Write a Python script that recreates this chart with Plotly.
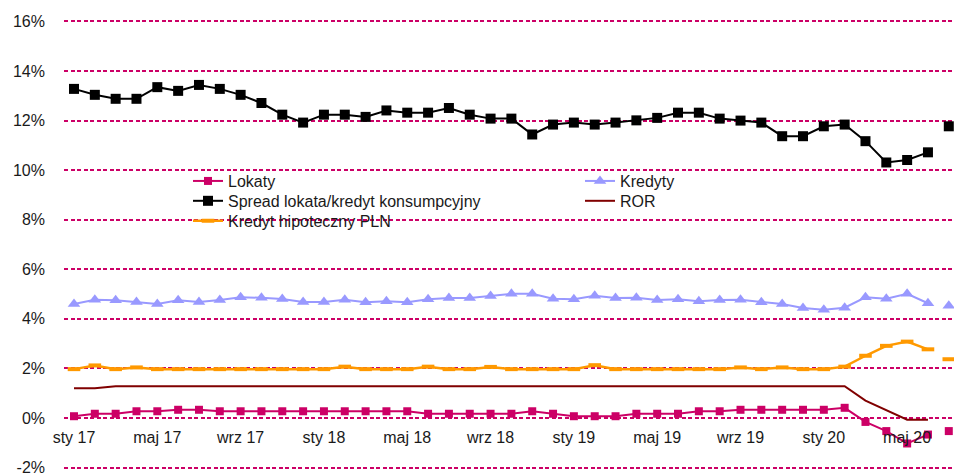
import plotly.graph_objects as go

# ---- data (monthly, sty 17 .. lip 20) ----
months = ["2017-01","2017-02","2017-03","2017-04","2017-05","2017-06","2017-07","2017-08","2017-09","2017-10","2017-11","2017-12",
          "2018-01","2018-02","2018-03","2018-04","2018-05","2018-06","2018-07","2018-08","2018-09","2018-10","2018-11","2018-12",
          "2019-01","2019-02","2019-03","2019-04","2019-05","2019-06","2019-07","2019-08","2019-09","2019-10","2019-11","2019-12",
          "2020-01","2020-02","2020-03","2020-04","2020-05","2020-06","2020-07"]

lokaty = [0.07,0.17,0.17,0.27,0.27,0.33,0.33,0.27,0.27,0.27,0.27,0.27,
          0.27,0.27,0.27,0.27,0.27,0.17,0.17,0.17,0.17,0.17,0.27,0.17,
          0.07,0.07,0.07,0.17,0.17,0.17,0.27,0.27,0.33,0.33,0.33,0.33,
          0.33,0.41,-0.16,-0.53,-1.03,-0.67,-0.53]

spread = [13.28,13.04,12.88,12.88,13.35,13.20,13.44,13.28,13.04,12.71,12.24,11.92,
          12.24,12.24,12.15,12.41,12.32,12.32,12.51,12.24,12.08,12.08,11.44,11.84,
          11.92,11.84,11.92,12.01,12.11,12.32,12.32,12.08,12.00,11.92,11.37,11.37,
          11.77,11.84,11.17,10.31,10.41,10.72,11.77]

kredyty = [4.60,4.77,4.75,4.68,4.60,4.75,4.68,4.76,4.87,4.85,4.80,4.68,
           4.68,4.77,4.67,4.71,4.67,4.79,4.84,4.84,4.92,5.01,5.01,4.81,
           4.79,4.93,4.84,4.85,4.76,4.79,4.71,4.76,4.77,4.67,4.60,4.44,
           4.37,4.45,4.87,4.81,5.01,4.63,4.53]

hipoteczny = [1.97,2.12,1.97,2.04,1.97,1.97,1.97,1.97,1.97,1.97,1.97,1.97,
              1.97,2.07,1.97,1.97,1.97,2.07,1.97,1.97,2.06,1.97,1.97,1.97,
              1.97,2.13,1.97,1.97,1.97,1.97,1.97,1.97,2.04,1.97,2.04,1.97,
              1.97,2.07,2.51,2.91,3.08,2.77,2.37]

ror = [1.20,1.20,1.28,1.28,1.28,1.28,1.28,1.28,1.28,1.28,1.28,1.28,
       1.28,1.28,1.28,1.28,1.28,1.28,1.28,1.28,1.28,1.28,1.28,1.28,
       1.28,1.28,1.28,1.28,1.28,1.28,1.28,1.28,1.28,1.28,1.28,1.28,
       1.28,1.28,0.70,0.32,-0.07,-0.07,None]

x_tick_labels = ["sty 17","maj 17","wrz 17","sty 18","maj 18","wrz 18",
                 "sty 19","maj 19","wrz 19","sty 20","maj 20"]
y_ticks = [-2,0,2,4,6,8,10,12,14,16]
y_tick_labels = ["-2%","0%","2%","4%","6%","8%","10%","12%","14%","16%"]

# ---- layout helpers (pixel -> paper) ----
W, H = 954, 476
ML, MR, MT, MB = 64, 0, 20, 4
PW, PH = W - ML - MR, H - MT - MB
def px(xp): return (xp - ML) / PW
def py(yp): return (H - MB - yp) / PH

x = list(range(len(months)))
n_main = len(months) - 1   # last month shown as a detached point
tick_pos = x[::4][:len(x_tick_labels)]

FONT = "Liberation Sans, Arial, sans-serif"
TXT = "#1a1a1a"
C_LOK = "#CC0066"
C_SPR = "#000000"
C_KRE = "#9999FF"
C_HIP = "#FF9900"
C_ROR = "#800000"
C_GRID = "#CC0066"

fig = go.Figure()

series = [
    ("Lokaty", lokaty, C_LOK, dict(symbol="square", size=8, color=C_LOK), 2, "legend"),
    ("Spread lokata/kredyt konsumpcyjny", spread, C_SPR, dict(symbol="square", size=10, color=C_SPR), 2, "legend2"),
    ("Kredyt hipoteczny PLN", hipoteczny, C_HIP,
     dict(symbol="line-ew-open", size=9, color=C_HIP, line=dict(width=4, color=C_HIP)), 2.5, "legend3"),
    ("Kredyty", kredyty, C_KRE, dict(symbol="triangle-up", size=11, color=C_KRE), 2, "legend4"),
]

for name, vals, col, mk, lw, lg in series:
    fig.add_trace(go.Scatter(x=x[:n_main], y=vals[:n_main], name=name, mode="lines+markers",
                             line=dict(color=col, width=lw), marker=mk, legend=lg))
    fig.add_trace(go.Scatter(x=x[n_main:], y=vals[n_main:], name=name, mode="markers",
                             marker=mk, showlegend=False, legend=lg))

fig.add_trace(go.Scatter(x=x, y=ror, name="ROR", mode="lines",
                         line=dict(color=C_ROR, width=2), legend="legend5"))

def leg(xp, yp):
    return dict(x=px(xp), y=py(yp), xanchor="left", yanchor="top",
                bgcolor="rgba(0,0,0,0)", font=dict(size=16, family=FONT, color=TXT))

fig.update_layout(
    width=W, height=H,
    margin=dict(l=ML, r=MR, t=MT, b=MB),
    paper_bgcolor="white", plot_bgcolor="white",
    font=dict(family=FONT, size=16, color=TXT),
    xaxis=dict(range=[-0.48, 42.25], tickvals=tick_pos, ticktext=x_tick_labels,
               showgrid=False, zeroline=False, showline=False,
               anchor="free", position=py(421), ticks="", ticklabelstandoff=8,
               ticklabeloverflow="allow",
               tickfont=dict(size=16, family=FONT, color=TXT)),
    yaxis=dict(range=[-2.06, 16.06], tickvals=y_ticks, ticktext=y_tick_labels,
               showgrid=True, gridcolor=C_GRID, gridwidth=1.6, griddash="4px,2.5px",
               zeroline=False, showline=False, ticks="", ticklabelstandoff=18,
               ticklabeloverflow="allow",
               tickfont=dict(size=16, family=FONT, color=TXT)),
    legend=leg(188, 165),
    legend2=leg(188, 185),
    legend3=leg(188, 205),
    legend4=leg(580, 165),
    legend5=leg(580, 185),
    showlegend=True,
    shapes=[dict(type="rect", xref="paper", yref="paper",
                 x0=px(137), x1=px(922), y0=py(236), y1=py(169),
                 fillcolor="white", line=dict(width=0), layer="between")],
)

fig.write_html("out.html", config={"displayModeBar": False},
               post_script="document.body.style.margin='0';")
